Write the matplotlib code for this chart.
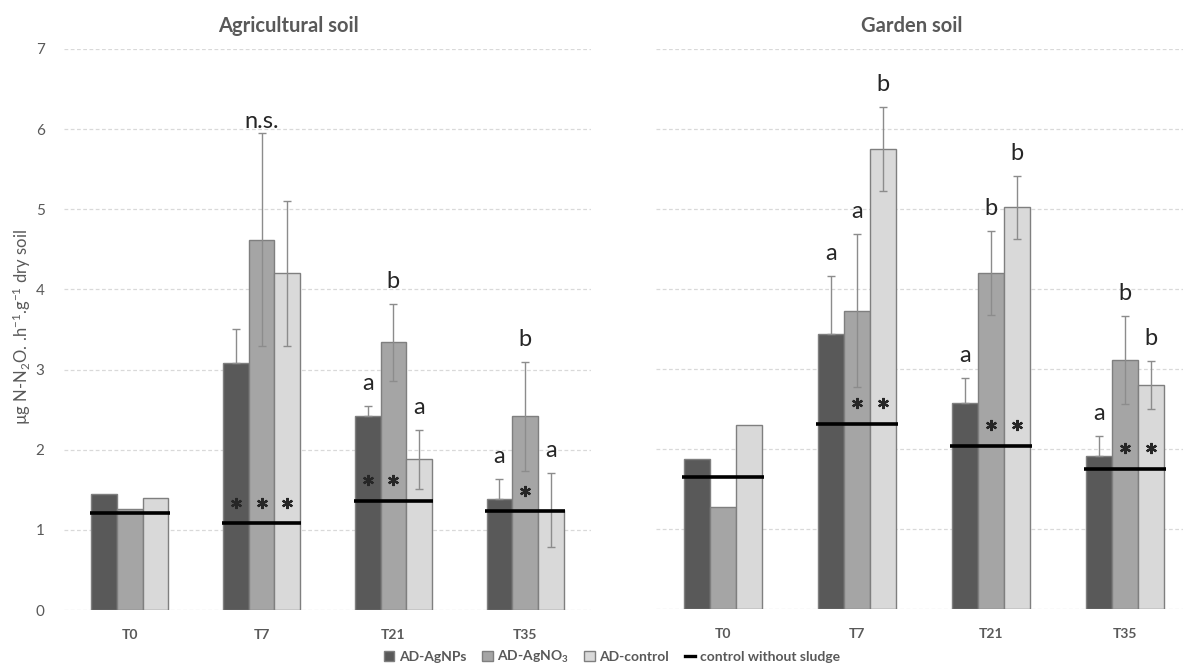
import matplotlib
matplotlib.use("Agg")
import matplotlib.pyplot as plt
from matplotlib.patches import Patch
from matplotlib.lines import Line2D
import numpy as np

plt.rcParams['font.family'] = ['Lato', 'DejaVu Sans']
plt.rcParams['mathtext.default'] = 'regular'

categories = ['T0', 'T7', 'T21', 'T35']
series_names = ['AD-AgNPs', 'AD-AgNO$_3$', 'AD-control']

# Agricultural soil
agri_agnps = [1.45, 3.08, 2.42, 1.38]
agri_agno3 = [1.26, 4.62, 3.34, 2.42]
agri_ctrl = [1.40, 4.20, 1.88, 1.25]
agri_agnps_err = [0, 0.43, 0.12, 0.26]
agri_agno3_err = [0, 1.33, 0.48, 0.68]
agri_ctrl_err = [0, 0.90, 0.37, 0.46]
agri_nosludge = [1.21, 1.08, 1.36, 1.23]
agri_letters = [['', '', ''], ['', '', ''], ['a', 'b', 'a'], ['a', 'b', 'a']]
agri_group_labels = ['', 'n.s.', '', '']
agri_stars = [[0, 0, 0], [1, 1, 1], [1, 1, 0], [0, 1, 0]]

# Garden soil
garden_agnps = [1.88, 3.44, 2.57, 1.91]
garden_agno3 = [1.28, 3.73, 4.20, 3.11]
garden_ctrl = [2.30, 5.75, 5.02, 2.80]
garden_agnps_err = [0, 0.72, 0.32, 0.25]
garden_agno3_err = [0, 0.96, 0.52, 0.55]
garden_ctrl_err = [0, 0.53, 0.39, 0.30]
garden_nosludge = [1.65, 2.31, 2.04, 1.75]
garden_letters = [['', '', ''], ['a', 'a', 'b'], ['a', 'b', 'b'], ['a', 'b', 'b']]
garden_group_labels = ['', '', '', '']
garden_stars = [[0, 0, 0], [0, 1, 1], [0, 1, 1], [0, 1, 1]]

colors = ['#595959', '#a5a5a5', '#d9d9d9']
edge = '#7f7f7f'
txt = '#595959'

W, H = 1183, 669
fig = plt.figure(figsize=(W / 100, H / 100), dpi=100)

def px_axes(x0, x1, ybot, ytop):
    return fig.add_axes([x0 / W, 1 - ybot / H, (x1 - x0) / W, (ybot - ytop) / H])

axL = px_axes(64, 591, 610, 49)
axR = px_axes(656, 1183, 609, 49)

bw = 0.195

def draw(ax, vals, errs, nosludge, letters, group_labels, stars, right_clip=3.5):
    x = np.arange(len(categories))
    ax.set_xlim(-0.5, right_clip)
    ax.set_ylim(0, 7)
    ax.set_yticks(range(0, 8))
    for yv in range(0, 8):
        ax.axhline(yv, color='#d9d9d9', lw=0.9, ls=(0, (3, 2)), zorder=0)
    for i, (v, e) in enumerate(zip(vals, errs)):
        xs = x + (i - 1) * bw
        ax.bar(xs, v, width=bw, color=colors[i], edgecolor=edge, linewidth=1.0, zorder=2)
        e = np.array(e, dtype=float)
        mask = e > 0
        lower = np.zeros_like(e) if i == 0 else e
        ax.errorbar(xs[mask], np.array(v)[mask], yerr=[lower[mask], e[mask]], fmt='none',
                    ecolor='#8c8c8c', elinewidth=1.0, capsize=3, capthick=1.0, zorder=3)
        for j in range(len(categories)):
            top = v[j] + e[j]
            if letters[j][i]:
                ax.text(xs[j], top + 0.15, letters[j][i], ha='center', va='bottom',
                        fontsize=17, color='#262626', zorder=5)
            if stars[j][i]:
                ax.plot(xs[j], nosludge[j] + 0.26, marker=(6, 2, 0), markersize=8,
                        mew=1.6, color='#262626', zorder=5, linestyle='none')
    for j in range(len(categories)):
        ax.plot([x[j] - 1.55 * bw, x[j] + 1.55 * bw], [nosludge[j]] * 2, color='black',
                lw=2.6, zorder=4, solid_capstyle='butt')
        if group_labels[j]:
            top = max(vals[k][j] + errs[k][j] for k in range(3))
            ax.text(x[j], top + 0.02, group_labels[j], ha='center', va='bottom',
                    fontsize=17, color='#262626', zorder=5)
    ax.set_xticks(x)
    ax.set_xticklabels(categories, fontsize=10, fontweight='bold', color=txt)
    for s in ax.spines.values():
        s.set_visible(False)
    ax.tick_params(axis='both', length=0)
    ax.tick_params(axis='x', pad=14)
    ax.tick_params(axis='y', pad=14, labelsize=11, labelcolor=txt)

draw(axL, [agri_agnps, agri_agno3, agri_ctrl], [agri_agnps_err, agri_agno3_err, agri_ctrl_err],
     agri_nosludge, agri_letters, agri_group_labels, agri_stars)
draw(axR, [garden_agnps, garden_agno3, garden_ctrl], [garden_agnps_err, garden_agno3_err, garden_ctrl_err],
     garden_nosludge, garden_letters, garden_group_labels, garden_stars, right_clip=3.5 - 9 / 134)
axR.set_yticklabels([])

fig.text(288 / W, 1 - 26 / H, 'Agricultural soil', ha='center', va='center', fontsize=14.5,
         fontweight='bold', color=txt)
fig.text(912 / W, 1 - 26 / H, 'Garden soil', ha='center', va='center', fontsize=14.5,
         fontweight='bold', color=txt)
fig.text(22 / W, 1 - 327 / H, 'µg N-N$_2$O. .h$^{-1}$.g$^{-1}$ dry soil', rotation=90,
         ha='center', va='center', fontsize=12, color=txt)

handles = [Patch(facecolor=colors[0], edgecolor=edge), Patch(facecolor=colors[1], edgecolor=edge),
           Patch(facecolor=colors[2], edgecolor=edge), Line2D([0], [0], color='black', lw=2.4)]
labels = series_names + ['control without sludge']
leg = fig.legend(handles, labels, loc='center', bbox_to_anchor=(612 / W, 1 - 657 / H), ncol=4,
                 frameon=False, handlelength=0.75, handleheight=0.75, handletextpad=0.35,
                 columnspacing=1.1, fontsize=10)
for t in leg.get_texts():
    t.set_color(txt)
    t.set_fontweight('bold')

fig.savefig('out.png', dpi=100)
